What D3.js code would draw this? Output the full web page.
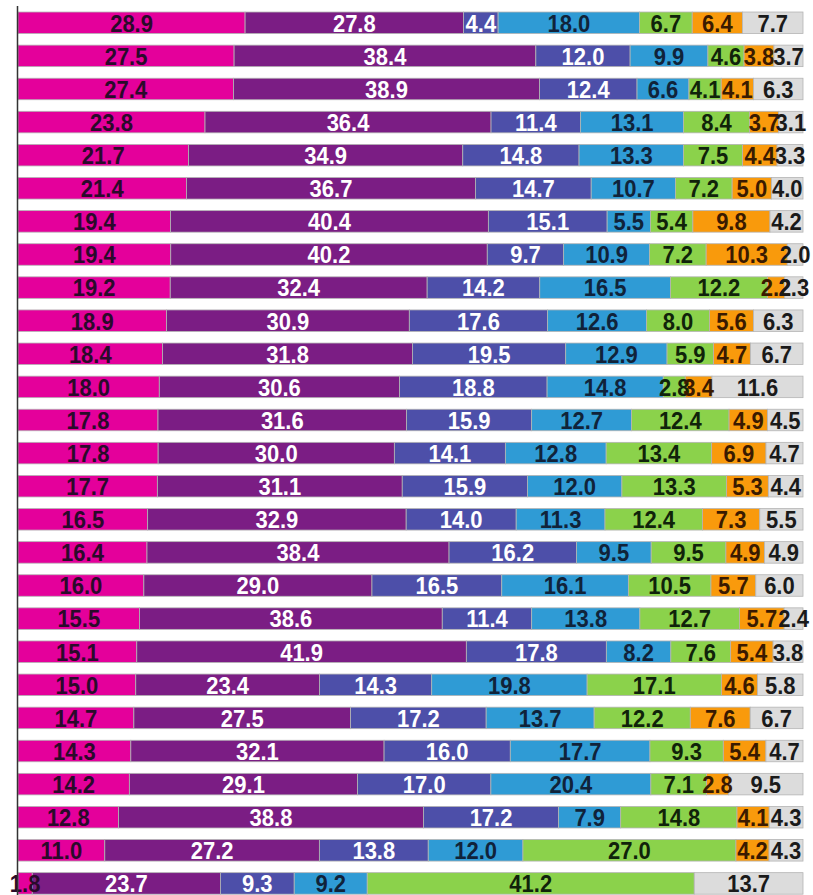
<!DOCTYPE html>
<html>
<head>
<meta charset="utf-8">
<script src="https://cdn.jsdelivr.net/npm/d3@7"></script>
<style>
  body { margin: 0; background: #fff; }
</style>
</head>
<body>
<div id="chart"></div>
<script>
// row ids (no names are shown on the chart)
var rows = d3.range(1, 28).map(function (i) { return "row" + i; });

var series = ["s1", "s2", "s3", "s4", "s5", "s6", "s7"];
var colors = ["#e4009b", "#7b1d84", "#4d4fa9", "#2f9bd5", "#8bd24b", "#f99a0c", "#dcdcdc"];
var labelColors = ["#2a0a2a", "#ffffff", "#ffffff", "#10233a", "#10230a", "#3a1a00", "#1a1a1a"];

// values per series, top row first
var s1 = [28.9, 27.5, 27.4, 23.8, 21.7, 21.4, 19.4, 19.4, 19.2, 18.9, 18.4, 18.0, 17.8, 17.8, 17.7, 16.5, 16.4, 16.0, 15.5, 15.1, 15.0, 14.7, 14.3, 14.2, 12.8, 11.0, 1.8];
var s2 = [27.8, 38.4, 38.9, 36.4, 34.9, 36.7, 40.4, 40.2, 32.4, 30.9, 31.8, 30.6, 31.6, 30.0, 31.1, 32.9, 38.4, 29.0, 38.6, 41.9, 23.4, 27.5, 32.1, 29.1, 38.8, 27.2, 23.7];
var s3 = [4.4, 12.0, 12.4, 11.4, 14.8, 14.7, 15.1, 9.7, 14.2, 17.6, 19.5, 18.8, 15.9, 14.1, 15.9, 14.0, 16.2, 16.5, 11.4, 17.8, 14.3, 17.2, 16.0, 17.0, 17.2, 13.8, 9.3];
var s4 = [18.0, 9.9, 6.6, 13.1, 13.3, 10.7, 5.5, 10.9, 16.5, 12.6, 12.9, 14.8, 12.7, 12.8, 12.0, 11.3, 9.5, 16.1, 13.8, 8.2, 19.8, 13.7, 17.7, 20.4, 7.9, 12.0, 9.2];
var s5 = [6.7, 4.6, 4.1, 8.4, 7.5, 7.2, 5.4, 7.2, 12.2, 8.0, 5.9, 2.8, 12.4, 13.4, 13.3, 12.4, 9.5, 10.5, 12.7, 7.6, 17.1, 12.2, 9.3, 7.1, 14.8, 27.0, 41.2];
var s6 = [6.4, 3.8, 4.1, 3.7, 4.4, 5.0, 9.8, 10.3, 2.2, 5.6, 4.7, 3.4, 4.9, 6.9, 5.3, 7.3, 4.9, 5.7, 5.7, 5.4, 4.6, 7.6, 5.4, 2.8, 4.1, 4.2, 0];
var s7 = [7.7, 3.7, 6.3, 3.1, 3.3, 4.0, 4.2, 2.0, 2.3, 6.3, 6.7, 11.6, 4.5, 4.7, 4.4, 5.5, 4.9, 6.0, 2.4, 3.8, 5.8, 6.7, 4.7, 9.5, 4.3, 4.3, 13.7];

var table = rows.map(function (r, i) {
    return { row: r, s1: s1[i], s2: s2[i], s3: s3[i], s4: s4[i], s5: s5[i], s6: s6[i], s7: s7[i] };
});

var W = 813, H = 895;
var margin = { left: 18, right: 10 };

var svg = d3.select("#chart")
    .append("svg")
    .attr("width", W)
    .attr("height", H);

// 100% stacked bars
var stacked = d3.stack()
    .keys(series)
    .offset(d3.stackOffsetExpand)(table);

var x = d3.scaleLinear()
    .domain([0, 1])
    .range([margin.left, 803]);

var y = d3.scaleBand()
    .domain(rows)
    .range([5.4, 900.8])
    .paddingInner(0.35)
    .paddingOuter(0.2);

var layers = svg.selectAll("g.layer")
    .data(stacked)
    .enter()
    .append("g")
    .attr("class", "layer")
    .attr("fill", function (d, i) { return colors[i]; });

layers.selectAll("rect")
    .data(function (d) { return d; })
    .enter()
    .append("rect")
    .attr("x", function (d) { return x(d[0]); })
    .attr("y", function (d) { return y(d.data.row); })
    .attr("width", function (d) { return x(d[1]) - x(d[0]); })
    .attr("height", y.bandwidth())
    .attr("stroke", "#b4b4b4")
    .attr("stroke-width", 0.8);

// labels in the middle of each segment
var labels = svg.selectAll("g.labels")
    .data(stacked)
    .enter()
    .append("g")
    .attr("class", "labels")
    .attr("fill", function (d, i) { return labelColors[i]; });

labels.selectAll("text")
    .data(function (d) {
        return d.filter(function (p) { return p.data[d.key] > 0; })
            .map(function (p) { return { p: p, v: p.data[d.key] }; });
    })
    .enter()
    .append("text")
    .attr("transform", function (d) {
        var cx = (x(d.p[0]) + x(d.p[1])) / 2;
        var cy = y(d.p.data.row) + y.bandwidth() / 2;
        return "translate(" + cx + "," + cy + ") scale(1,1.12)";
    })
    .attr("text-anchor", "middle")
    .attr("dy", "0.36em")
    .style("font-family", "'Liberation Sans', Arial, sans-serif")
    .style("font-size", "22px")
    .style("font-weight", "bold")
    .text(function (d) { return d.v.toFixed(1); });

// left axis, no tick labels
svg.append("g")
    .attr("transform", "translate(" + (margin.left - 1) + ",0)")
    .call(d3.axisLeft(y).tickSize(0).tickFormat(""))
    .call(function (g) { g.select(".domain").attr("stroke", "#333").attr("stroke-width", 1.5); });
</script>
</body>
</html>
